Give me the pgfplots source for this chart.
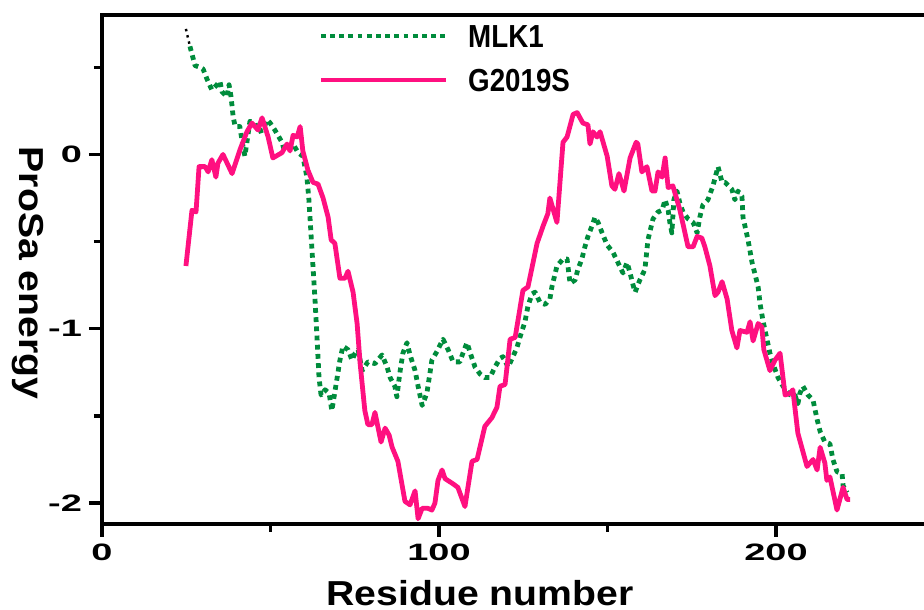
\documentclass[border=0pt]{standalone}
\usepackage{fontspec}
\setmainfont{Liberation Sans}
\usepackage{graphicx}
\usepackage{pgfplots}
\pgfplotsset{compat=1.18}
\definecolor{mpink}{RGB}{255,16,128}
\definecolor{mgreen}{RGB}{0,140,60}
\newcommand\tl[1]{\scalebox{1.6}[1]{#1}}
\newcommand\tickfont{\fontsize{11.9}{12}\selectfont\bfseries}
\pgfplotstableread{
x y
26.1 0.62
27.6 0.51
29.1 0.50
30.0 0.49
31.2 0.43
32.6 0.37
34.1 0.40
35.0 0.42
35.6 0.36
37.1 0.33
37.7 0.40
38.3 0.33
38.9 0.22
39.5 0.16
40.9 0.16
41.8 0.05
42.4 -0.01
43.0 0.07
43.9 0.19
45.4 0.18
46.3 0.13
47.8 0.14
49.0 0.20
49.9 0.18
51.3 0.14
52.2 0.11
53.4 0.07
54.0 0.03
55.8 0.04
56.7 0.06
58.2 0.01
59.6 -0.01
60.8 -0.13
61.4 -0.26
62.0 -0.45
62.6 -0.64
63.2 -0.83
63.8 -1.05
64.4 -1.28
65.0 -1.38
66.2 -1.35
67.4 -1.37
68.2 -1.47
69.7 -1.29
70.6 -1.18
71.5 -1.10
73.0 -1.12
74.2 -1.18
75.1 -1.14
76.0 -1.12
77.2 -1.24
78.9 -1.19
81.0 -1.20
83.1 -1.15
84.6 -1.22
85.5 -1.28
86.9 -1.33
87.5 -1.39
88.4 -1.25
89.3 -1.14
90.5 -1.08
91.4 -1.15
92.9 -1.24
93.8 -1.33
95.0 -1.44
96.4 -1.37
97.9 -1.18
99.4 -1.13
101.2 -1.06
102.7 -1.12
104.2 -1.19
106.2 -1.19
107.1 -1.14
108.3 -1.08
109.8 -1.17
110.7 -1.22
112.2 -1.26
113.6 -1.28
115.1 -1.28
116.6 -1.22
118.1 -1.17
119.0 -1.16
120.5 -1.22
121.7 -1.17
123.1 -1.11
124.0 -1.05
125.5 -0.96
126.4 -0.87
127.6 -0.80
128.5 -0.79
130.0 -0.85
131.5 -0.86
132.9 -0.83
133.5 -0.76
135.0 -0.64
136.8 -0.60
138.0 -0.60
138.9 -0.74
140.4 -0.72
141.2 -0.66
142.4 -0.60
143.3 -0.53
144.2 -0.47
145.4 -0.41
146.3 -0.36
147.2 -0.39
148.4 -0.45
149.9 -0.52
151.6 -0.56
153.1 -0.62
154.6 -0.68
155.8 -0.62
156.7 -0.68
157.6 -0.75
158.2 -0.79
159.6 -0.72
161.1 -0.66
162.0 -0.49
163.5 -0.37
165.0 -0.33
166.2 -0.32
167.1 -0.26
168.0 -0.32
168.5 -0.39
169.1 -0.45
169.7 -0.26
170.6 -0.21
171.5 -0.28
172.4 -0.33
173.9 -0.37
175.4 -0.39
176.6 -0.45
177.4 -0.36
178.3 -0.29
179.8 -0.26
181.3 -0.18
182.8 -0.07
184.0 -0.16
184.9 -0.16
186.9 -0.20
187.8 -0.26
188.7 -0.21
189.9 -0.24
190.2 -0.36
191.7 -0.49
192.9 -0.62
193.8 -0.69
194.7 -0.76
195.3 -0.86
196.1 -0.95
197.3 -1.06
198.2 -1.14
199.1 -1.20
200.6 -1.28
202.1 -1.33
204.2 -1.38
205.6 -1.38
206.5 -1.43
207.1 -1.37
208.0 -1.33
209.5 -1.38
211.0 -1.41
212.2 -1.52
213.1 -1.59
214.5 -1.65
216.0 -1.66
216.9 -1.75
218.1 -1.82
219.6 -1.83
219.9 -1.90
221.1 -1.94
}\mlk
\pgfplotstableread{
x y
24.9 -0.64
26.7 -0.32
27.9 -0.33
28.8 -0.07
30.6 -0.07
31.5 -0.10
32.6 -0.03
33.8 -0.13
34.4 -0.05
35.9 0.00
38.6 -0.11
41.0 0.03
43.0 0.13
44.5 0.18
46.3 0.14
47.5 0.21
49.3 0.10
50.7 -0.02
53.4 0.01
54.9 0.06
55.8 0.02
56.7 0.11
57.9 0.10
58.8 0.16
59.6 0.02
61.1 -0.09
62.6 -0.16
64.1 -0.17
65.6 -0.25
67.1 -0.36
68.0 -0.49
69.1 -0.51
70.6 -0.71
72.1 -0.71
73.0 -0.67
74.5 -0.79
75.7 -0.97
76.6 -1.20
78.0 -1.47
78.9 -1.55
80.1 -1.55
81.0 -1.48
82.8 -1.65
84.0 -1.57
85.2 -1.61
86.1 -1.68
87.8 -1.76
89.9 -1.99
91.4 -2.01
92.9 -1.93
93.8 -2.09
95.0 -2.03
96.7 -2.03
97.9 -2.04
98.8 -2.00
99.7 -1.87
100.9 -1.81
101.8 -1.86
104.2 -1.89
105.6 -1.91
107.7 -2.02
109.8 -1.76
111.3 -1.75
113.6 -1.56
115.7 -1.51
117.2 -1.45
118.1 -1.33
119.6 -1.32
121.1 -1.06
122.6 -1.05
124.9 -0.78
126.4 -0.76
129.1 -0.51
130.9 -0.41
132.3 -0.34
132.9 -0.25
135.0 -0.39
136.8 0.07
138.0 0.10
139.8 0.23
141.0 0.24
142.7 0.18
144.2 0.17
144.8 0.06
145.7 0.13
146.9 0.10
147.8 0.13
149.9 -0.01
151.3 -0.18
152.2 -0.20
153.4 -0.11
154.9 -0.21
156.7 -0.02
158.5 0.07
159.0 0.06
160.2 -0.10
161.7 -0.07
163.2 -0.21
164.1 -0.21
165.0 -0.10
166.2 -0.13
167.1 -0.02
168.0 -0.19
169.4 -0.18
171.5 -0.32
173.9 -0.53
175.4 -0.53
176.6 -0.47
178.0 -0.48
178.9 -0.53
180.4 -0.64
181.9 -0.81
182.8 -0.79
184.0 -0.73
185.5 -0.83
186.9 -1.01
188.4 -1.11
189.3 -1.01
191.4 -1.02
192.3 -0.96
193.2 -1.07
194.7 -0.97
195.8 -0.99
196.4 -1.12
198.2 -1.24
199.7 -1.18
201.2 -1.14
202.7 -1.38
204.2 -1.37
205.0 -1.35
206.5 -1.60
209.2 -1.79
211.0 -1.75
212.2 -1.81
213.1 -1.68
214.5 -1.77
215.1 -1.87
216.0 -1.85
218.1 -2.04
219.9 -1.91
221.1 -1.98
222.0 -1.98
}\gmut
\begin{document}
\begin{tikzpicture}
\begin{axis}[
  scale only axis, width=414bp, height=254.5bp,
  xmin=0, xmax=245.7, ymin=-2.12, ymax=0.80,
  axis line style={line width=2bp},
  tick pos=left, tick align=outside,
  every tick/.style={black, line width=1.6bp},
  major tick length=6.5bp, minor tick length=4bp,
  xtick={0,100,200}, minor xtick={50,150},
  xticklabels={\tl{0},\tl{100},\tl{200}},
  ytick={-2,-1,0}, minor ytick={-1.5,-0.5,0.5},
  yticklabels={\tl{-2},\tl{-1},\tl{0}},
  xticklabel style={font=\tickfont},
  yticklabel style={font=\tickfont},
  xlabel={\scalebox{1.13}[1]{Residue number}},
  xlabel style={at={(rel axis cs:0.4565,0)}, anchor=base, yshift=-40.5bp,
    font=\fontsize{17.4}{17.4}\selectfont\bfseries},
  ylabel={\scalebox{1.13}[1]{ProSa energy}},
  ylabel style={at={([xshift=-41bp]rel axis cs:0,0.493)}, rotate=180, anchor=base,
    font=\fontsize{17.4}{17.4}\selectfont\bfseries},
  legend style={draw=none, fill=none, at={(rel axis cs:0.2609,0.982)}, anchor=north west,
    inner sep=0pt, row sep=10.5bp, column sep=10bp,
    font=\fontsize{16}{16}\selectfont\bfseries,
    nodes={inner sep=0pt, text height=11.5bp, text depth=0pt}},
  legend cell align=left,
  legend image code/.code={\draw[#1] (0bp,0bp) -- (62.5bp,0bp);},
]
\addplot[black, line width=1.2bp, dash pattern=on 1.2bp off 2bp, forget plot] coordinates {(24.9,0.72) (26.1,0.62)};
\addplot[mgreen, line width=2.4bp, line join=round, dash pattern=on 2.4bp off 2.2bp] table[x=x,y=y] {\mlk};
\addlegendentry{\scalebox{0.87}[1]{MLK1}}
\addplot[mpink, line width=2.4bp, line join=round] table[x=x,y=y] {\gmut};
\addlegendentry{\scalebox{0.87}[1]{G2019S}}
\end{axis}
\pgfresetboundingbox
\path[use as bounding box] (-51bp,-43bp) rectangle (411bp,262bp);
\end{tikzpicture}
\end{document}
